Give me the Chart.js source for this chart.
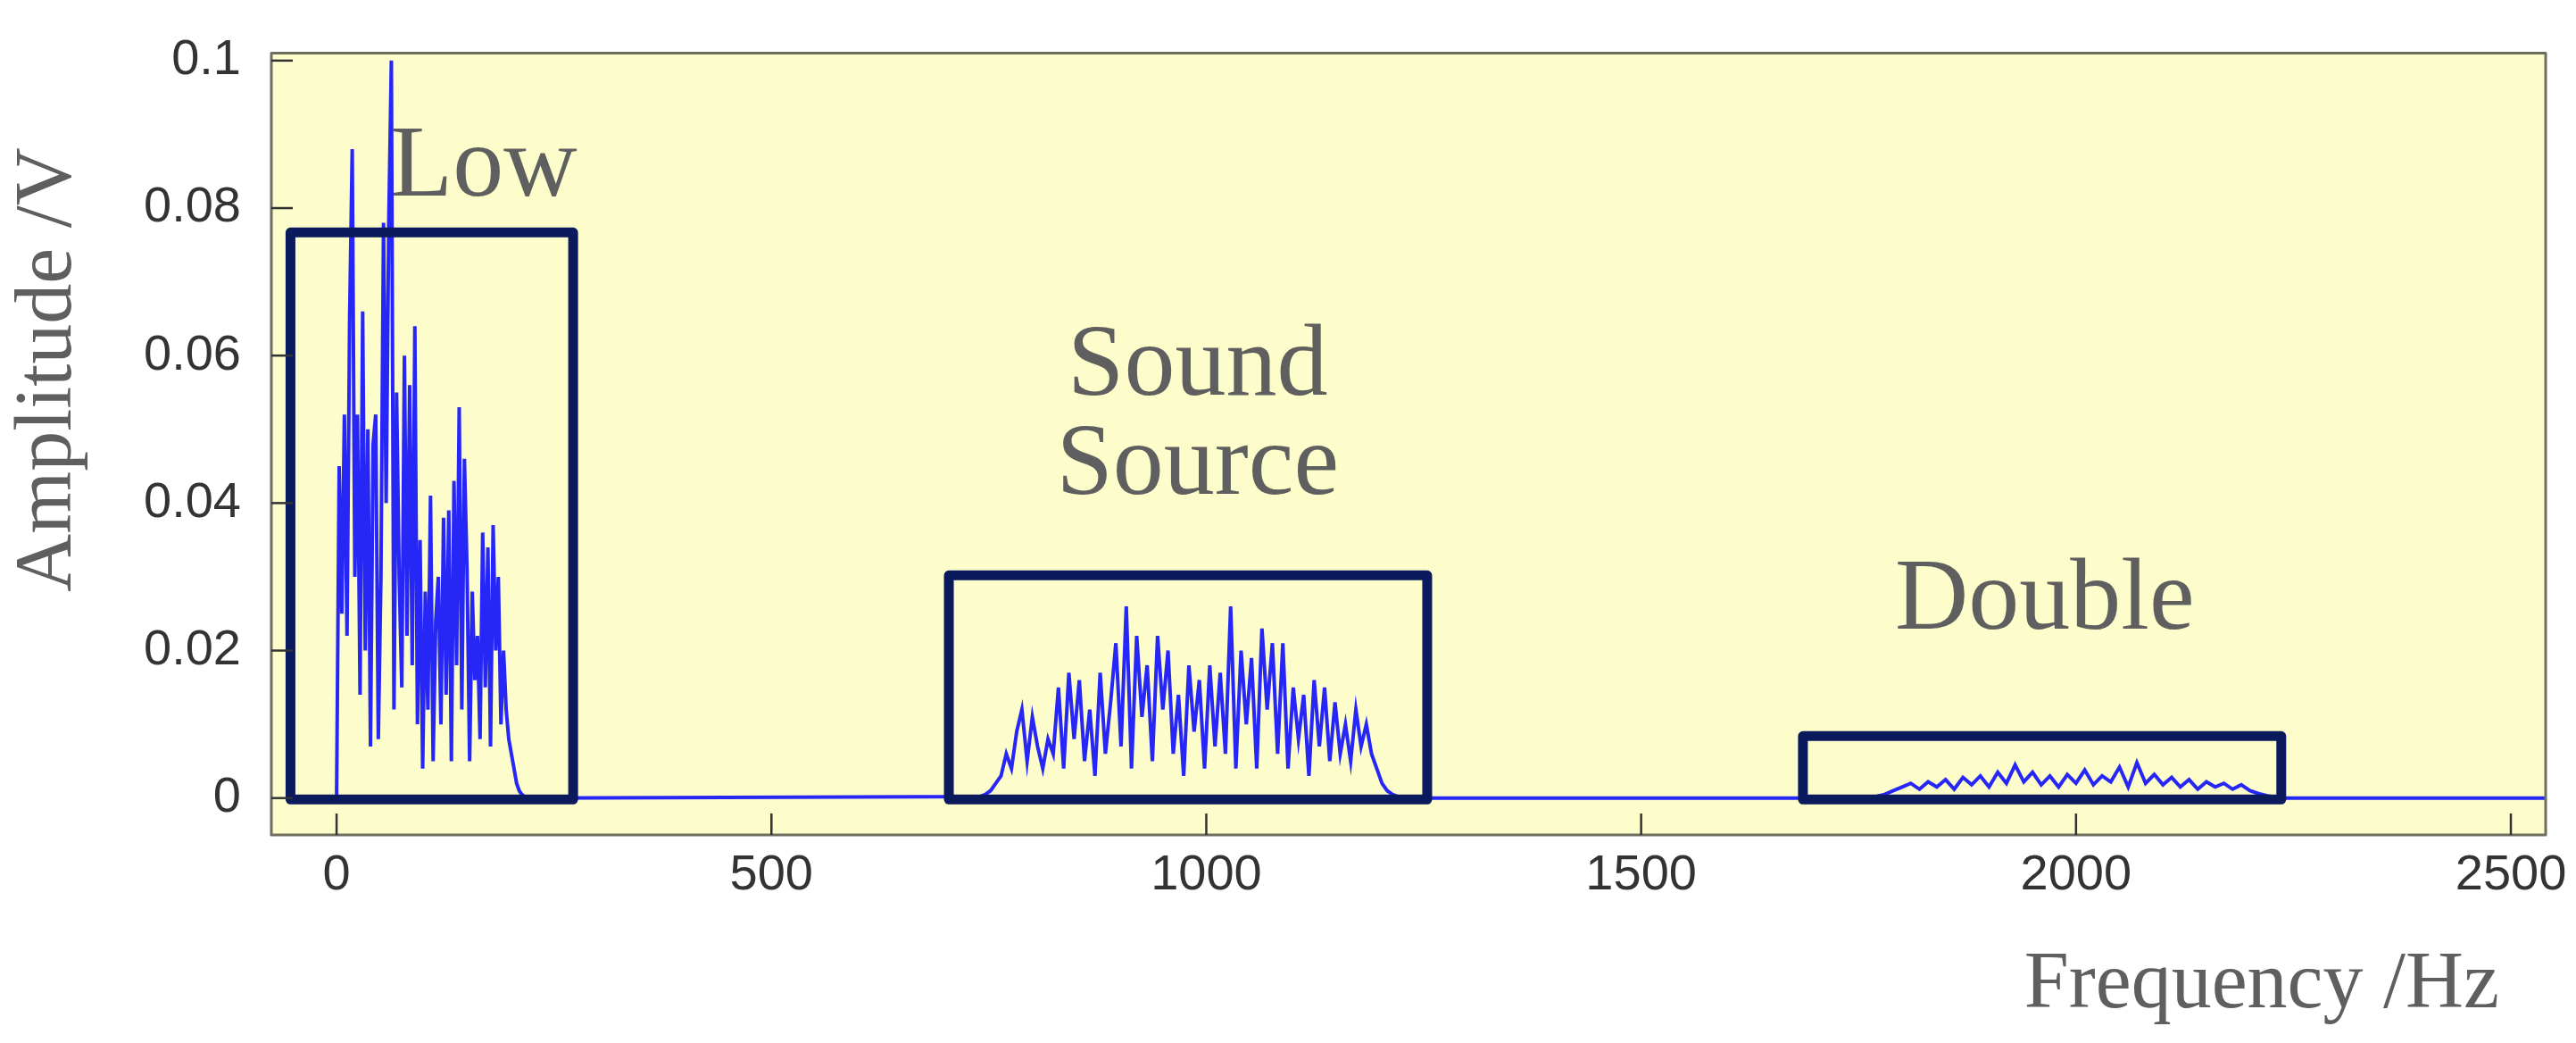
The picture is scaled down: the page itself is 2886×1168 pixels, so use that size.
<!DOCTYPE html>
<html><head><meta charset="utf-8">
<script src="https://cdn.jsdelivr.net/npm/chart.js@4/dist/chart.umd.min.js"></script>
<style>html,body{margin:0;padding:0;background:#fff}canvas{display:block}</style>
</head><body>
<canvas id="c" width="2886" height="1168"></canvas>
<script>
const lowFreq = [0,3,6,9,12,15,18,21,24,27,30,33,36,39,42,45,48,51,54,57,60,63,66,69,72,75,78,81,84,87,90,93,96,99,102,105,108,111,114,117,120,123,126,129,132,135,138,141,144,147,150,153,156,159,162,165,168,171,174,177,180,183,186,189,192,195,198,201,204,207,210,213,216,219,222,225];
const lowAmp = [0,0.045,0.025,0.052,0.022,0.065,0.088,0.030,0.052,0.014,0.066,0.020,0.050,0.007,0.048,0.052,0.008,0.030,0.078,0.040,0.078,0.100,0.012,0.055,0.030,0.015,0.060,0.022,0.056,0.018,0.064,0.010,0.035,0.004,0.028,0.012,0.041,0.005,0.024,0.030,0.010,0.038,0.014,0.039,0.005,0.043,0.018,0.053,0.012,0.046,0.031,0.005,0.028,0.016,0.022,0.008,0.036,0.015,0.034,0.007,0.037,0.020,0.030,0.010,0.020,0.012,0.008,0.006,0.004,0.002,0.001,0.0005,0.0002,0.0001,0,0];
const srcFreq = [740,746,752,758,764,770,776,782,788,794,800,806,812,818,824,830,836,842,848,854,860,866,872,878,884,890,896,902,908,914,920,926,932,938,944,950,956,962,968,974,980,986,992,998,1004,1010,1016,1022,1028,1034,1040,1046,1052,1058,1064,1070,1076,1082,1088,1094,1100,1106,1112,1118,1124,1130,1136,1142,1148,1154,1160,1166,1172,1178,1184,1190,1196,1202,1208,1214,1220,1226];
const srcAmp = [0.0002,0.0005,0.001,0.002,0.003,0.006,0.004,0.009,0.012,0.005,0.011,0.007,0.004,0.008,0.006,0.015,0.004,0.017,0.008,0.016,0.005,0.012,0.003,0.017,0.006,0.013,0.021,0.007,0.026,0.004,0.022,0.011,0.018,0.005,0.022,0.012,0.020,0.006,0.014,0.003,0.018,0.009,0.016,0.004,0.018,0.007,0.017,0.006,0.026,0.004,0.020,0.010,0.019,0.004,0.023,0.012,0.021,0.006,0.021,0.004,0.015,0.008,0.014,0.003,0.016,0.007,0.015,0.005,0.013,0.006,0.010,0.005,0.012,0.007,0.010,0.006,0.004,0.002,0.001,0.0005,0.0002,0];
const dblFreq = [1760,1770,1780,1790,1800,1810,1820,1830,1840,1850,1860,1870,1880,1890,1900,1910,1920,1930,1940,1950,1960,1970,1980,1990,2000,2010,2020,2030,2040,2050,2060,2070,2080,2090,2100,2110,2120,2130,2140,2150,2160,2170,2180,2190,2200,2210,2220,2230,2240];
const dblAmp = [0,0.0002,0.0005,0.001,0.0015,0.002,0.0012,0.0022,0.0015,0.0025,0.0012,0.0028,0.0018,0.003,0.0015,0.0035,0.002,0.0045,0.0022,0.0035,0.0018,0.003,0.0015,0.0032,0.002,0.0038,0.0018,0.003,0.0022,0.0042,0.0015,0.0048,0.002,0.0032,0.0018,0.0028,0.0015,0.0025,0.0012,0.0022,0.0015,0.002,0.0012,0.0018,0.001,0.0006,0.0003,0.0001,0];
const tailFreq = [2540];
const tailAmp = [0];
const xTicks = [0,500,1000,1500,2000,2500];
const yTicks = [0,0.02,0.04,0.06,0.08,0.1];
const boxes = [
  {x0:-53,x1:272,y0:-0.0002,y1:0.0767},
  {x0:704,x1:1254,y0:-0.0002,y1:0.0302},
  {x0:1686,x1:2236,y0:-0.0002,y1:0.0084}
];
const labels = [
  {text:'Low',x:62,y:0.0853,align:'left'},
  {text:'Sound',x:990,y:0.0583,align:'center'},
  {text:'Source',x:990,y:0.0449,align:'center'},
  {text:'Double',x:1964,y:0.0266,align:'center'}
];

const pts = [];
[[lowFreq,lowAmp],[srcFreq,srcAmp],[dblFreq,dblAmp],[tailFreq,tailAmp]].forEach(([f,a])=>f.forEach((v,i)=>pts.push({x:v,y:a[i]})));

const deco = {
  id:'deco',
  beforeDraw(ch){
    const {ctx,chartArea:a}=ch;
    ctx.save();ctx.fillStyle='#fdfccb';ctx.fillRect(a.left,a.top,a.right-a.left,a.bottom-a.top);ctx.restore();
  },
  afterDatasetsDraw(ch){
    const {ctx,chartArea:a,scales:{x,y}}=ch;
    ctx.save();
    ctx.strokeStyle='#0a1a5c';ctx.lineWidth=11;ctx.lineJoin='round';
    boxes.forEach(b=>{const l=x.getPixelForValue(b.x0),r=x.getPixelForValue(b.x1),t=y.getPixelForValue(b.y1),bt=y.getPixelForValue(b.y0);ctx.strokeRect(l,t,r-l,bt-t);});
    ctx.fillStyle='#5f5f5f';ctx.font='114px "Liberation Serif"';ctx.textBaseline='middle';
    labels.forEach(L=>{ctx.textAlign=L.align;ctx.fillText(L.text,x.getPixelForValue(L.x),y.getPixelForValue(L.y));});
    ctx.strokeStyle='#6e6e5e';ctx.lineWidth=3;
    ctx.strokeRect(a.left,a.top,a.right-a.left,a.bottom-a.top);
    ctx.strokeStyle='#333';ctx.lineWidth=2.5;
    yTicks.forEach(v=>{const p=y.getPixelForValue(v);ctx.beginPath();ctx.moveTo(a.left,p);ctx.lineTo(a.left+24,p);ctx.stroke();});
    xTicks.forEach(v=>{const p=x.getPixelForValue(v);ctx.beginPath();ctx.moveTo(p,a.bottom);ctx.lineTo(p,a.bottom-24);ctx.stroke();});
    ctx.fillStyle='#5f5f5f';ctx.font='90px "Liberation Serif"';
    ctx.textAlign='right';ctx.textBaseline='middle';ctx.fillText('Frequency /Hz',2800,1104);
    ctx.translate(55,414);ctx.rotate(-Math.PI/2);ctx.textAlign='center';ctx.fillText('Amplitude /V',0,0);
    ctx.restore();
  }
};

new Chart(document.getElementById('c'),{
  type:'line',
  data:{datasets:[{data:pts,borderColor:'rgba(0,0,255,0.85)',borderWidth:4,pointRadius:0,tension:0,fill:false}]},
  options:{
    responsive:false,devicePixelRatio:1,animation:false,
    layout:{padding:{top:33,right:34,left:0,bottom:0}},
    plugins:{legend:{display:false},tooltip:{enabled:false}},
    scales:{
      x:{type:'linear',min:-75,max:2540,
        afterBuildTicks(s){s.ticks=xTicks.map(v=>({value:v}));},
        afterFit(s){s.height=233;},
        grid:{display:false},border:{display:false},
        ticks:{color:'#333',padding:4,font:{family:'Liberation Sans',size:56},callback:v=>String(v)}},
      y:{type:'linear',min:-0.005,max:0.101,
        afterBuildTicks(s){s.ticks=yTicks.map(v=>({value:v}));},
        afterFit(s){s.width=304;},
        grid:{display:false},border:{display:false},
        ticks:{color:'#333',padding:26,font:{family:'Liberation Sans',size:56},callback:v=>String(Number(v.toFixed(2)))}}
    }
  },
  plugins:[deco]
});
</script>
</body></html>
